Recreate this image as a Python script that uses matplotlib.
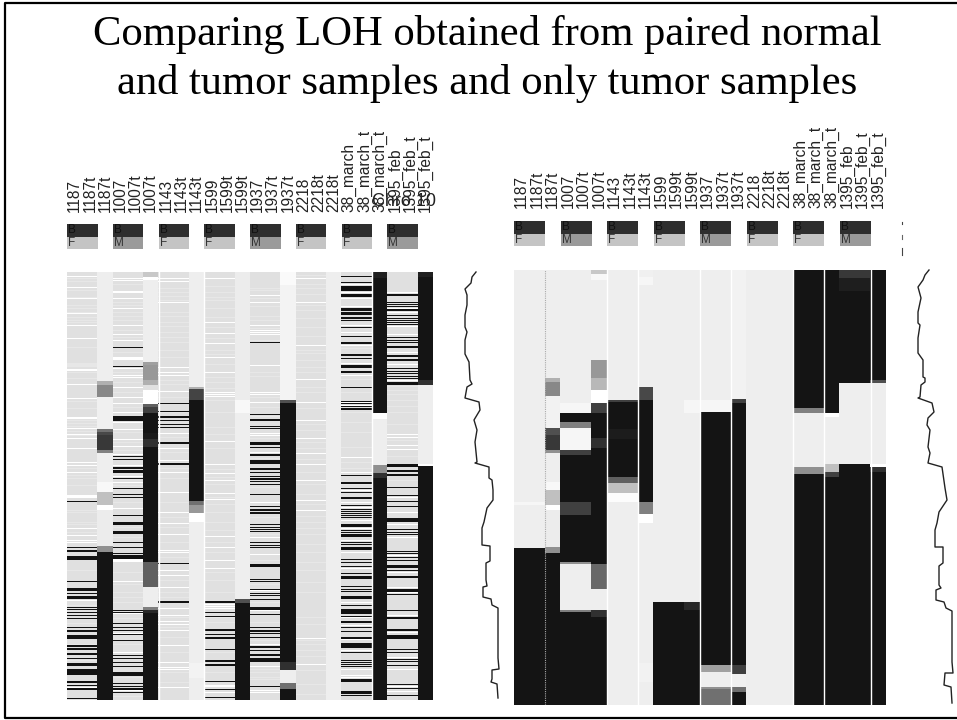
import numpy as np
import matplotlib
matplotlib.use('Agg')
import matplotlib.pyplot as plt

W, H = 957, 720
plt.rcParams['font.family'] = ['Liberation Sans', 'DejaVu Sans']

title_lines = ['Comparing LOH obtained from paired normal', 'and tumor samples and only tumor samples']
sample_labels = ['1187', '1187t', '1187t', '1007', '1007t', '1007t', '1143', '1143t', '1143t',
                 '1599', '1599t', '1599t', '1937', '1937t', '1937t', '2218', '2218t', '2218t',
                 '38_march', '38_march_t', '38_march_t', '1395_feb', '1395_feb_t', '1395_feb_t']
sex_labels = ['F', 'M', 'F', 'F', 'M', 'F', 'F', 'M']
chrom_label = 'Chro 10'

# left panel: SNP calls, two lined columns then one smoothed column in each group
# black bands are (start row, height), white and pale lines are just rows
group0_black = [(229, 1), (275, 1), (278, 2), (284, 4), (309, 1), (316, 3), (321, 1), (324, 3), (335, 1), (337, 1),
                (340, 1), (343, 1), (346, 1), (355, 1), (358, 2), (363, 4), (373, 2), (376, 2), (381, 2), (386, 1),
                (391, 3), (397, 6), (409, 2), (413, 1), (416, 2), (426, 1)]
group0_white = [4, 15, 26, 41, 53, 66, 97, 98, 112, 126, 145, 146, 156, 162, 166, 176, 190, 193, 200,
                223, 224, 225, 256, 263, 268, 270, 328, 415]
group0_pale = [6, 9, 18, 25, 33, 36, 40, 45, 48, 50, 75, 91, 92, 93, 94, 100, 106, 129, 136, 148, 151, 154, 159,
               163, 196, 203, 206, 213, 238, 240, 250, 252, 260, 298, 333, 351, 372, 388]
group1_black = [(75, 1), (94, 1), (144, 5), (184, 1), (187, 1), (195, 2), (198, 3), (206, 1), (216, 1), (222, 1),
                (225, 1), (243, 1), (250, 3), (259, 3), (270, 1), (275, 1), (281, 1), (283, 4), (338, 1), (340, 1),
                (351, 1), (355, 1), (358, 1), (362, 1), (368, 1), (383, 1), (386, 1), (390, 1), (394, 1), (400, 4),
                (411, 1), (414, 1), (416, 2), (420, 1)]
group1_white = [6, 8, 19, 20, 26, 36, 53, 62, 68, 85, 86, 87, 96, 103, 105, 115, 125, 131, 140, 150, 157, 167, 174,
                182, 193, 204, 210, 236, 287, 288, 289, 309, 341, 361, 380, 418]
group1_pale = [12, 30, 33, 40, 44, 48, 58, 65, 80, 100, 110, 120, 135, 160, 170, 178, 200, 213, 230, 255, 265, 300,
               312, 320, 325, 330, 346, 372, 405, 424]
group2_black = [(131, 1), (139, 1), (144, 2), (148, 1), (152, 1), (155, 1), (170, 2), (191, 2), (291, 1), (329, 2)]
group2_white = [6, 9, 30, 95, 100, 103, 119, 161, 176, 188, 200, 220, 240, 251, 262, 278, 280, 298, 303, 315, 336,
                343, 349, 352, 358, 373, 390, 395, 397, 415]
group2_pale = [16, 20, 24, 28, 40, 44, 50, 54, 60, 65, 70, 78, 85, 108, 112, 125, 140, 165, 180, 196, 206, 230, 245,
               255, 270, 285, 308, 320, 325, 345, 355, 365, 380, 400, 410]
group3_black = [(329, 2), (340, 1), (344, 1), (357, 2), (362, 1), (365, 2), (377, 1), (388, 2), (392, 2), (409, 1),
                (417, 1), (425, 1)]
group3_white = [6, 50, 61, 71, 85, 100, 120, 122, 124, 169, 192, 201, 208, 221, 227, 264, 275, 288, 296, 332, 334,
                336, 413, 414, 420]
group3_pale = [14, 20, 25, 28, 36, 45, 55, 66, 78, 82, 92, 105, 110, 116, 128, 140, 155, 162, 176, 197, 205, 212,
               225, 232, 240, 250, 258, 270, 280, 300, 308, 320, 345, 350, 365, 380, 400]
group4_black = [(70, 1), (142, 1), (147, 2), (154, 1), (156, 1), (170, 3), (175, 1), (182, 2), (188, 4), (196, 2),
                (200, 1), (204, 1), (206, 2), (209, 1), (212, 1), (222, 1), (234, 1), (237, 2), (240, 2), (252, 1),
                (255, 1), (257, 1), (259, 1), (270, 1), (273, 1), (275, 1), (292, 2), (294, 1), (307, 1), (309, 1),
                (317, 1), (321, 1), (323, 1), (327, 1), (335, 2), (337, 1), (342, 1), (355, 1), (358, 2), (361, 1),
                (365, 1), (374, 2), (378, 1), (382, 2), (386, 4), (414, 1)]
group4_white = [23, 30, 53, 58, 60, 62, 93, 120, 122, 130, 161, 163, 180, 230, 265, 282, 318, 338, 372, 394, 418, 420]
group4_pale = [16, 18, 26, 34, 44, 48, 56, 68, 100, 104, 125, 135, 144, 166, 186, 215, 245, 262, 288, 312, 330, 350,
               368, 397, 400, 405, 407]
group5_black = []
group5_white = [6, 30, 73, 107, 130, 148, 166, 181, 192, 208, 228, 238, 366, 392]
group5_pale = [3, 12, 16, 22, 33, 38, 46, 55, 64, 78, 81, 88, 95, 100, 115, 120, 136, 152, 158, 170, 176, 187, 200,
               212, 222, 232, 244, 250, 256, 262, 272, 280, 290, 298, 310, 320, 345, 352, 368, 372, 378, 384, 398, 412, 422]
group6_black = [(4, 1), (10, 1), (14, 5), (22, 3), (36, 3), (40, 3), (45, 2), (48, 1), (55, 1), (64, 1), (70, 2),
                (82, 2), (86, 1), (93, 3), (99, 2), (115, 1), (129, 1), (131, 1), (134, 1), (136, 2), (203, 1),
                (210, 2), (216, 1), (220, 1), (225, 2), (233, 1), (237, 1), (239, 1), (241, 1), (243, 1), (245, 1),
                (252, 3), (258, 1), (260, 1), (262, 3), (270, 1), (272, 1), (275, 3), (287, 1), (290, 1), (294, 1),
                (301, 1), (304, 3), (314, 1), (317, 1), (319, 1), (324, 3), (333, 1), (337, 5), (344, 1), (349, 2),
                (355, 1), (359, 1), (365, 2), (371, 5), (380, 1), (388, 1), (390, 1), (392, 1), (394, 1), (407, 3),
                (419, 3), (423, 1)]
group6_white = [12, 20, 26, 34, 53, 60, 73, 91, 103, 130, 133, 185, 200, 218, 230, 235, 248, 256, 268, 280, 296, 330,
                345, 353, 367, 378, 397, 403, 405]
group6_pale = [45, 62, 76, 107, 120, 140, 150, 160, 175, 190, 196, 212]
group7_black = [(22, 2), (30, 1), (32, 1), (34, 1), (37, 2), (43, 1), (46, 1), (48, 1), (50, 1), (52, 1), (65, 1),
                (68, 1), (70, 1), (74, 2), (83, 2), (87, 2), (96, 1), (99, 1), (101, 1), (104, 1), (106, 1), (110, 3),
                (192, 3), (198, 2), (202, 2), (215, 1), (223, 1), (229, 1), (234, 1), (246, 4), (257, 1), (260, 1),
                (262, 1), (279, 1), (281, 1), (285, 1), (288, 1), (293, 3), (298, 1), (304, 2), (317, 3), (322, 1),
                (338, 1), (345, 2), (357, 2), (363, 4), (377, 1), (380, 1), (387, 1), (389, 1), (393, 1), (412, 1),
                (416, 1), (423, 1)]
group7_white = [20, 36, 40, 54, 62, 80, 92, 108, 162, 165, 173, 177, 225, 240, 252, 265, 283, 300, 315, 320, 343, 360,
                385, 397, 414, 419]
group7_pale = [114, 118, 122, 128, 134, 140, 152, 168, 184, 208]

# smoothed columns of the left panel as (end row, gray level)
left_col2 = [(109, 238), (113, 176), (125, 136), (157, 240), (160, 112), (163, 72), (178, 56), (181, 128), (210, 238),
             (220, 248), (233, 192), (238, 255), (274, 236), (280, 144), (428, 20)]
left_col5 = [(5, 200), (8, 255), (90, 238), (93, 160), (108, 152), (113, 176), (118, 224), (132, 255), (135, 96),
             (141, 64), (161, 20), (167, 26), (175, 48), (290, 20), (315, 96), (335, 238), (338, 128), (341, 40), (428, 20)]
left_col8 = [(115, 238), (117, 176), (128, 68), (229, 20), (233, 112), (241, 152), (250, 255), (391, 238), (406, 244),
             (428, 238)]
left_col11 = [(128, 236), (141, 248), (327, 238), (331, 80), (428, 20)]
left_col14 = [(13, 250), (128, 244), (131, 80), (390, 20), (398, 48), (411, 238), (417, 112), (428, 20)]
left_col17 = [(428, 238)]
left_col20 = [(6, 32), (141, 20), (147, 255), (193, 238), (201, 144), (206, 48), (428, 20)]
left_col23 = [(5, 32), (108, 20), (113, 48), (192, 238), (194, 255), (428, 20)]

# right panel: smoothed calls for all columns as (end row, gray level)
right_col01 = [(232, 238), (235, 246), (278, 238), (435, 20)]
right_col2 = [(108, 238), (112, 176), (126, 136), (158, 242), (165, 80), (180, 56), (183, 144), (212, 238), (220, 248),
              (235, 192), (240, 255), (277, 236), (283, 144), (435, 20)]
right_col34 = [(133, 238), (143, 246), (152, 20), (158, 128), (180, 246), (185, 64), (232, 20), (245, 64), (292, 20),
               (294, 144), (340, 238), (342, 128), (435, 20)]
right_col5 = [(4, 200), (10, 248), (90, 238), (108, 152), (120, 184), (133, 255), (143, 64), (168, 20), (178, 48),
              (294, 20), (319, 104), (340, 238), (347, 48), (435, 20)]
right_col67 = [(130, 238), (132, 64), (159, 20), (169, 28), (207, 20), (213, 96), (223, 192), (232, 252), (435, 238)]
right_col8 = [(7, 240), (15, 246), (117, 238), (130, 72), (232, 20), (244, 128), (253, 255), (393, 238), (412, 242),
              (435, 238)]
right_col910 = [(332, 238), (435, 20)]
right_col11 = [(130, 238), (143, 246), (332, 238), (340, 40), (435, 20)]
right_col1213 = [(130, 238), (142, 246), (395, 20), (402, 160), (417, 238), (419, 144), (435, 112)]
right_col14 = [(129, 242), (133, 64), (395, 20), (404, 64), (417, 240), (422, 112), (435, 20)]
right_col1516 = [(435, 238)]
right_col17 = [(435, 238)]
right_col1819 = [(138, 20), (143, 128), (197, 238), (204, 144), (435, 20)]
right_col20 = [(143, 20), (147, 255), (194, 238), (202, 192), (207, 64), (435, 20)]
right_col2122 = [(8, 56), (21, 30), (113, 20), (194, 238), (435, 20)]
right_col23 = [(110, 20), (113, 80), (194, 238), (197, 255), (202, 48), (435, 20)]

# running LOH statistic beside each panel
left_stat_x = [476, 472, 471, 465, 467, 467, 465, 465, 467, 465, 465, 469, 470, 472, 467, 465, 479, 480, 474, 477, 475,
               477, 475, 489, 489, 492, 493, 493, 487, 484, 482, 482, 490, 490, 486, 486, 487, 483, 483, 491, 492, 498,
               498, 499, 492, 492, 491, 497, 498]
left_stat_y = [272, 277, 283, 289, 295, 305, 315, 327, 332, 340, 354, 362, 380, 384, 387, 398, 402, 410, 420, 430, 442,
               462, 463, 467, 478, 480, 490, 500, 508, 522, 528, 545, 546, 561, 563, 580, 586, 587, 597, 599, 605, 608,
               658, 669, 670, 679, 682, 684, 698]
right_stat_x = [929, 925, 923, 918, 921, 918, 918, 920, 918, 918, 923, 923, 925, 925, 921, 920, 918, 932, 934, 928, 927,
                930, 928, 930, 928, 942, 945, 947, 939, 937, 935, 935, 943, 943, 939, 939, 941, 936, 936, 944, 946, 952,
                952, 953, 945, 944, 951, 952]
right_stat_y = [270, 275, 280, 287, 298, 312, 323, 325, 338, 353, 360, 377, 378, 382, 385, 397, 398, 403, 412, 418, 425,
                430, 447, 453, 463, 467, 488, 500, 512, 523, 530, 547, 547, 563, 566, 585, 588, 590, 600, 602, 608, 611,
                662, 673, 673, 685, 687, 703]


def pixel_axes(fig, left, top, right, bottom):
    ax = fig.add_axes([left / W, 1 - bottom / H, (right - left) / W, (bottom - top) / H])
    ax.set_axis_off()
    return ax


def fill_runs(matrix, cols, runs):
    start = 0
    for end, gray in runs:
        matrix[start:end, cols] = gray
        start = end


def fill_lined(matrix, cols, black, white, pale):
    matrix[:, cols] = 224
    for r in pale:
        matrix[r, cols] = 231
    for r in white:
        matrix[r, cols] = 255
    for start, height in black:
        matrix[start:start + height, cols] = 18


# build the left matrix
left = np.zeros((428, 24))
groups = [(group0_black, group0_white, group0_pale), (group1_black, group1_white, group1_pale),
          (group2_black, group2_white, group2_pale), (group3_black, group3_white, group3_pale),
          (group4_black, group4_white, group4_pale), (group5_black, group5_white, group5_pale),
          (group6_black, group6_white, group6_pale), (group7_black, group7_white, group7_pale)]
left_solid = [left_col2, left_col5, left_col8, left_col11, left_col14, left_col17, left_col20, left_col23]
for i in range(8):
    black, white, pale = groups[i]
    fill_lined(left, [3 * i, 3 * i + 1], black, white, pale)
    fill_runs(left, 3 * i + 2, left_solid[i])

# build the right matrix
right = np.zeros((435, 24))
fill_runs(right, [0, 1], right_col01)
fill_runs(right, 2, right_col2)
fill_runs(right, [3, 4], right_col34)
fill_runs(right, 5, right_col5)
fill_runs(right, [6, 7], right_col67)
fill_runs(right, 8, right_col8)
fill_runs(right, [9, 10], right_col910)
fill_runs(right, 11, right_col11)
fill_runs(right, [12, 13], right_col1213)
fill_runs(right, 14, right_col14)
fill_runs(right, [15, 16], right_col1516)
fill_runs(right, 17, right_col17)
fill_runs(right, [18, 19], right_col1819)
fill_runs(right, 20, right_col20)
fill_runs(right, [21, 22], right_col2122)
fill_runs(right, 23, right_col23)

fig = plt.figure(figsize=(W / 100, H / 100), dpi=100)

# page frame, title and stray text live on a full page axes
page = pixel_axes(fig, 0, 0, W, H)
page.set_xlim(0, W)
page.set_ylim(H, 0)
page.plot([957, 5, 5, 957], [3, 3, 718, 718], color='black', lw=1.6)
page.plot([902, 902], [222, 224], color='#444444', lw=0.8)
page.plot([902, 902], [235, 239], color='#666666', lw=0.8)
page.plot([902, 902], [248, 255], color='#444444', lw=0.8)
page.text(487, 45, title_lines[0], family=['Liberation Serif'], fontsize=30.7, ha='center', va='baseline')
page.text(487, 94, title_lines[1], family=['Liberation Serif'], fontsize=30.7, ha='center', va='baseline')
page.text(404, 202, chrom_label, fontsize=13, ha='center', va='center', color='#222222', zorder=5)


def draw_panel(matrix, box, annot, separators, dashed, pad):
    ax = pixel_axes(fig, *box)
    ax.imshow(matrix, cmap='gray', vmin=0, vmax=255, aspect='auto', interpolation='nearest',
              extent=(0, 24, matrix.shape[0], 0))
    for s in separators:
        ax.axvline(s, color='white', lw=1)
    for s in dashed:
        ax.axvline(s, color='#aaaaaa', lw=0.8, ls=(0, (1, 1)))

    # batch and sex boxes with the sample names on top
    an = fig.add_axes([box[0] / W, 1 - annot[1] / H, (box[2] - box[0]) / W, (annot[1] - annot[0]) / H])
    an.set_xlim(0, 24)
    an.set_ylim(0, 2)
    starts = np.arange(8) * 3
    an.bar(starts, [1] * 8, width=2, bottom=1, align='edge', color='#2e2e2e')
    an.bar(starts, [1] * 8, width=2, bottom=0, align='edge',
           color=['#c4c4c4' if s == 'F' else '#9a9a9a' for s in sex_labels])
    for x, s in zip(starts, sex_labels):
        an.text(x + 0.08, 1.5, 'B', fontsize=8.5, color='#111111', va='center', ha='left')
        an.text(x + 0.08, 0.5, s, fontsize=8.5, color='#333333', va='center', ha='left')
    for sp in an.spines.values():
        sp.set_visible(False)
    an.set_yticks([])
    an.set_xticks(np.arange(24) + 0.5)
    an.set_xticklabels(sample_labels, rotation=90, fontsize=11.2, color='#222222', va='bottom', ha='center')
    an.tick_params(axis='x', top=True, bottom=False, labeltop=True, labelbottom=False, length=0, pad=pad)
    an.patch.set_alpha(0)


draw_panel(left, (67, 272, 433, 700), (224, 249), [6, 9, 20], [], 9)
draw_panel(right, (514, 270, 886, 705), (221, 246), [6, 8, 12, 14, 18, 20, 23], [2], 9)

# LOH statistic curves
page.plot(left_stat_x, left_stat_y, color='#222222', lw=1)
page.plot(right_stat_x, right_stat_y, color='#222222', lw=1)

fig.savefig('out.png', dpi=100)
